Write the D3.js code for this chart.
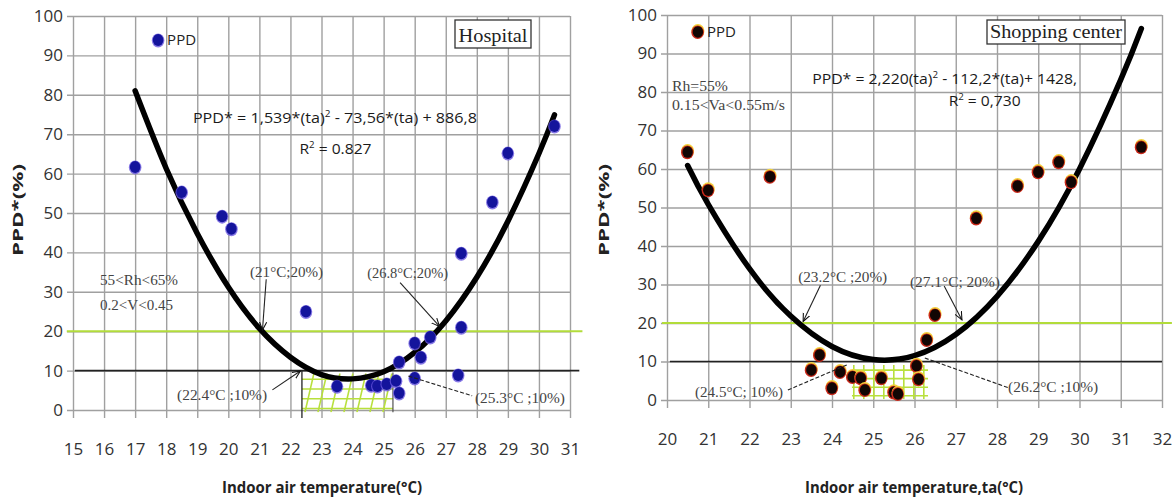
<!DOCTYPE html>
<html>
<head>
<meta charset="utf-8">
<script src="https://cdn.jsdelivr.net/npm/d3@7"></script>
<style>
  body { margin: 0; background: #fff; }
  text { font-family: "Open Sans", sans-serif; }
</style>
</head>
<body>
<div id="chart"></div>
<script>
const width = 1175;
const height = 499;

// Hospital measurements (air temperature °C, PPD* %)
const hospitalTemp = [17.0, 18.5, 19.8, 20.1, 22.5, 23.5, 24.6, 24.8, 25.1, 25.4, 25.5, 25.5, 26.0, 26.2, 26.0, 26.5, 27.4, 27.5, 27.5, 28.5, 29.0, 30.5];
const hospitalPPD = [61.7, 55.3, 49.2, 46.0, 25.0, 6.0, 6.3, 6.1, 6.6, 7.4, 4.3, 12.2, 8.1, 13.4, 17.0, 18.5, 8.9, 21.0, 39.8, 52.8, 65.2, 72.1];
// Hospital fitted curve
const hospitalFitTemp = [17, 18, 19, 20, 21, 22, 23, 24, 25, 26, 27, 28, 29, 30, 30.5];
const hospitalFitPPD = [81.0, 61.3, 44.8, 31.2, 20.7, 13.4, 9.0, 7.9, 9.7, 14.6, 22.6, 33.7, 47.9, 65.1, 74.9];
const hospitalXTicks = [15, 16, 17, 18, 19, 20, 21, 22, 23, 24, 25, 26, 27, 28, 29, 30, 31];

// Shopping center measurements
const shopTemp = [20.5, 21.0, 22.5, 23.5, 23.7, 24.0, 24.2, 24.5, 24.7, 24.8, 25.2, 25.5, 25.6, 26.05, 26.1, 26.3, 26.5, 27.5, 28.5, 29.0, 29.5, 29.8, 31.5];
const shopPPD = [64.4, 54.5, 58.0, 7.8, 11.7, 3.1, 7.3, 6.0, 5.7, 2.6, 5.7, 2.0, 1.6, 8.9, 5.4, 15.6, 22.1, 47.2, 55.6, 59.2, 61.8, 56.6, 65.7];
const shopFitTemp = [20.5, 21, 22, 23, 24, 25, 26, 27, 28, 29, 30, 31, 31.5];
const shopFitPPD = [60.9, 50.8, 34.1, 21.8, 13.9, 10.5, 11.5, 17.0, 26.9, 41.2, 60.0, 83.2, 96.5];
const shopXTicks = [20, 21, 22, 23, 24, 25, 26, 27, 28, 29, 30, 31, 32];

const yTicks = [0, 10, 20, 30, 40, 50, 60, 70, 80, 90, 100];

const svg = d3.select("#chart").append("svg").attr("width", width).attr("height", height);

const defs = svg.append("defs");
defs.append("marker").attr("id", "arrow")
    .attr("viewBox", "0 0 10 10").attr("refX", 9).attr("refY", 5)
    .attr("markerWidth", 9).attr("markerHeight", 9).attr("markerUnits", "userSpaceOnUse")
    .attr("orient", "auto")
    .append("path").attr("d", "M0,1 L9,5 L0,9").attr("fill", "none").attr("stroke", "#111").attr("stroke-width", 1.2);

const panels = [
    {
        id: "hosp",
        temp: hospitalTemp, ppd: hospitalPPD, fitT: hospitalFitTemp, fitP: hospitalFitPPD, xTicks: hospitalXTicks,
        xDomain: [15, 31], xRange: [73, 570], yRange: [410, 16],
        dot: "blue",
        title: "Hospital", box: [455, 20, 76, 28], titleLen: 69,
        legend: [17.74, 93.9],
        eq: { x: 18.86, y: 74.0, len: 284, text: ["PPD* = 1,539*(ta)", "2", " - 73,56*(ta) + 886,8"] },
        r2: { x: 23.45, y: 66.3, len: 72, text: ["R", "2", " = 0.827"] },
        notes: [
            { t: "55<Rh<65%", x: 15.87, y: 33.0, len: 78 },
            { t: "0.2<V<0.45", x: 15.87, y: 26.7, len: 73 }
        ],
        arrows: [
            { t: "(21°C;20%)", x: 20.70, y: 35.0, len: 73, from: [21.22, 33.2], to: [21.1, 20.3], dash: false },
            { t: "(26.8°C;20%)", x: 24.47, y: 34.7, len: 81, from: [25.53, 32.3], to: [26.8, 21.2], dash: false },
            { t: "(22.4°C ;10%)", x: 18.35, y: 3.8, len: 90, from: [21.42, 5.1], to: [22.32, 9.9], dash: false },
            { t: "(25.3°C ;10%)", x: 27.94, y: 3.0, len: 90, from: [25.8, 8.6], to: [27.85, 3.6], dash: true }
        ],
        green: [14.8, 31.4], black: [15.06, 31.3],
        hatch: { x0: 22.37, x1: 25.3, y0: 9.3, y1: -0.6, kind: "slant" },
        xTitle: "Indoor air temperature(°C)", xTitleX: 322, xTitleLen: 200,
        yTitleX: 18
    },
    {
        id: "shop",
        temp: shopTemp, ppd: shopPPD, fitT: shopFitTemp, fitP: shopFitPPD, xTicks: shopXTicks,
        xDomain: [20, 32], xRange: [667, 1162], yRange: [400, 15],
        dot: "dark",
        title: "Shopping center", box: [987, 20, 138, 24], titleLen: 132,
        legend: [20.75, 95.6],
        eq: { x: 23.52, y: 83.4, len: 265, text: ["PPD* = 2,220(ta)", "2", " - 112,2*(ta)+ 1428,"] },
        r2: { x: 27.7, y: 77.6, len: 72, text: ["R", "2", " = 0,730"] },
        notes: [
            { t: "Rh=55%", x: 20.12, y: 81.6, len: 56 },
            { t: "0.15<Va<0.55m/s", x: 20.12, y: 76.6, len: 113 }
        ],
        arrows: [
            { t: "(23.2°C ;20%)", x: 23.18, y: 32.0, len: 89, from: [23.72, 29.8], to: [23.3, 20.4], dash: false },
            { t: "(27.1°C; 20%)", x: 25.89, y: 30.7, len: 90, from: [26.72, 29.6], to: [27.15, 20.8], dash: false },
            { t: "(24.5°C; 10%)", x: 20.68, y: 2.0, len: 88, from: [22.93, 2.6], to: [24.4, 9.3], dash: true },
            { t: "(26.2°C ;10%)", x: 28.27, y: 3.3, len: 90, from: [26.25, 10.9], to: [28.3, 3.1], dash: true }
        ],
        green: [19.88, 32.24], black: [20.07, 32.0],
        hatch: { x0: 24.48, x1: 26.33, y0: 9.1, y1: 0.2, kind: "grid" },
        xTitle: "Indoor air temperature,ta(°C)", xTitleX: 914, xTitleLen: 218,
        yTitleX: 604
    }
];

panels.forEach(p => {
    const x = d3.scaleLinear().domain(p.xDomain).range(p.xRange);
    const y = d3.scaleLinear().domain([0, 100]).range(p.yRange);
    const g = svg.append("g").attr("id", p.id);

    // Vertical gridlines + tick labels
    const xAxis = d3.axisBottom(x).tickValues(p.xTicks).tickFormat(d3.format("d"))
        .tickSizeInner(-(y(0) + 8 - y(100))).tickSizeOuter(0).tickPadding(25);
    const gx = g.append("g").attr("transform", `translate(0, ${y(0) + 8})`).call(xAxis);
    gx.select(".domain").remove();
    gx.selectAll("line").attr("stroke", "#a0a0a0").attr("stroke-width", 1.4);
    gx.selectAll("text").style("font-size", "17px").attr("fill", "#333");

    // Horizontal gridlines + tick labels
    const yAxis = d3.axisLeft(y).tickValues(yTicks)
        .tickSizeInner(-(x.range()[1] - x.range()[0] + 6)).tickSizeOuter(0).tickPadding(4);
    const gy = g.append("g").attr("transform", `translate(${x.range()[0] - 6}, 0)`).call(yAxis);
    gy.select(".domain").remove();
    gy.selectAll("line").attr("stroke", "#a0a0a0").attr("stroke-width", 1.4);
    gy.selectAll("text").style("font-size", "17px").attr("fill", "#333");

    // Comfort threshold lines
    g.append("line").attr("x1", x(p.green[0])).attr("x2", x(p.green[1]))
        .attr("y1", y(20)).attr("y2", y(20)).attr("stroke", "#b2dc3a").attr("stroke-width", 2);
    g.append("line").attr("x1", x(p.black[0])).attr("x2", x(p.black[1]))
        .attr("y1", y(10)).attr("y2", y(10)).attr("stroke", "#222").attr("stroke-width", 1.6);

    // Hatched comfort zone
    const h = p.hatch;
    const hx0 = x(h.x0), hx1 = x(h.x1), hy0 = y(h.y0), hy1 = y(h.y1);
    const clipId = "clip-" + p.id;
    defs.append("clipPath").attr("id", clipId).append("rect")
        .attr("x", hx0).attr("y", hy0).attr("width", hx1 - hx0).attr("height", hy1 - hy0);
    const hg = g.append("g").attr("clip-path", `url(#${clipId})`)
        .attr("stroke", "#b8e03c").attr("stroke-width", 1.6);
    const rows = 4;
    d3.range(rows).forEach(i => {
        const yy = hy0 + (hy1 - hy0) * (i + 0.6) / rows;
        hg.append("line").attr("x1", hx0).attr("x2", hx1).attr("y1", yy).attr("y2", yy);
    });
    if (h.kind === "slant") {
        for (let xx = hx0 - 10; xx < hx1 + 10; xx += 13) {
            hg.append("line").attr("x1", xx).attr("y1", hy1).attr("x2", xx + 9).attr("y2", hy0);
        }
        g.append("line").attr("x1", hx0).attr("x2", hx0).attr("y1", y(10)).attr("y2", y(0) + 8)
            .attr("stroke", "#222").attr("stroke-width", 1.3);
        g.append("line").attr("x1", hx1).attr("x2", hx1).attr("y1", y(9.5)).attr("y2", y(-0.6))
            .attr("stroke", "#444").attr("stroke-width", 1.1);
    } else {
        for (let xx = hx0 + 2; xx < hx1; xx += 10) {
            hg.append("line").attr("x1", xx).attr("x2", xx).attr("y1", hy0).attr("y2", hy1);
        }
    }

    // Fitted curve
    const line = d3.line().x((d, i) => x(p.fitT[i])).y((d, i) => y(p.fitP[i])).curve(d3.curveNatural);
    g.append("path").datum(p.fitP).attr("d", line).attr("fill", "none")
        .attr("stroke", "#000").attr("stroke-width", 5.5).attr("stroke-linecap", "round");

    // Points
    const drawDot = (sel, cx, cy) => {
        if (p.dot === "blue") {
            sel.append("ellipse").attr("cx", cx).attr("cy", cy + 0.5).attr("rx", 6.3).attr("ry", 7)
                .attr("fill", "#6a58e0").attr("opacity", 0.8);
            sel.append("ellipse").attr("cx", cx).attr("cy", cy).attr("rx", 5.3).attr("ry", 6)
                .attr("fill", "#14149c");
        } else {
            sel.append("ellipse").attr("cx", cx).attr("cy", cy - 1).attr("rx", 6.5).attr("ry", 7)
                .attr("fill", "#f2d23c");
            sel.append("ellipse").attr("cx", cx - 0.3).attr("cy", cy + 0.3).attr("rx", 6.3).attr("ry", 6.8)
                .attr("fill", "#c8281a");
            sel.append("ellipse").attr("cx", cx).attr("cy", cy).attr("rx", 5.2).attr("ry", 5.8)
                .attr("fill", "#120604");
        }
    };
    const dots = g.append("g");
    p.ppd.forEach((v, i) => drawDot(dots.append("g"), x(p.temp[i]), y(v)));

    // Legend
    drawDot(g.append("g"), x(p.legend[0]), y(p.legend[1]));
    g.append("text").attr("x", x(p.legend[0]) + 9).attr("y", y(p.legend[1]) + 5)
        .style("font-size", "15px").attr("fill", "#222").text("PPD");

    // Title box
    g.append("rect").attr("x", p.box[0]).attr("y", p.box[1]).attr("width", p.box[2]).attr("height", p.box[3])
        .attr("fill", "#fff").attr("stroke", "#333").attr("stroke-width", 1.3);
    g.append("text").attr("x", p.box[0] + p.box[2] / 2).attr("y", p.box[1] + p.box[3] - 6)
        .attr("text-anchor", "middle").attr("textLength", p.titleLen).attr("lengthAdjust", "spacingAndGlyphs")
        .style("font-family", "'Liberation Serif', serif").style("font-size", "19px").attr("fill", "#222")
        .text(p.title);

    // Equation + R²
    const eq = g.append("text").attr("x", x(p.eq.x)).attr("y", y(p.eq.y) + 5)
        .attr("textLength", p.eq.len).attr("lengthAdjust", "spacingAndGlyphs")
        .style("font-size", "14.5px").attr("fill", "#1a1a1a");
    eq.append("tspan").text(p.eq.text[0]);
    eq.append("tspan").attr("dy", -6).style("font-size", "9px").text(p.eq.text[1]);
    eq.append("tspan").attr("dy", 6).text(p.eq.text[2]);
    const r2 = g.append("text").attr("x", x(p.r2.x) - p.r2.len / 2).attr("y", y(p.r2.y) + 5)
        .attr("textLength", p.r2.len).attr("lengthAdjust", "spacingAndGlyphs")
        .style("font-size", "14.5px").attr("fill", "#1a1a1a");
    r2.append("tspan").text(p.r2.text[0]);
    r2.append("tspan").attr("dy", -6).style("font-size", "9px").text(p.r2.text[1]);
    r2.append("tspan").attr("dy", 6).text(p.r2.text[2]);

    // Condition notes
    p.notes.forEach(n => {
        g.append("text").attr("x", x(n.x)).attr("y", y(n.y) + 5)
            .attr("textLength", n.len).attr("lengthAdjust", "spacingAndGlyphs")
            .style("font-family", "'Liberation Serif', serif").style("font-size", "15px")
            .attr("fill", "#444").text(n.t);
    });

    // Annotated intersections
    p.arrows.forEach(a => {
        g.append("text").attr("x", x(a.x)).attr("y", y(a.y) + 5)
            .attr("textLength", a.len).attr("lengthAdjust", "spacingAndGlyphs")
            .style("font-family", "'Liberation Serif', serif").style("font-size", "15px")
            .attr("fill", "#444").text(a.t);
        const l = g.append("line")
            .attr("x1", x(a.from[0])).attr("y1", y(a.from[1]))
            .attr("x2", x(a.to[0])).attr("y2", y(a.to[1]))
            .attr("stroke", "#222").attr("stroke-width", 1.1);
        if (a.dash) l.attr("stroke-dasharray", "4,2");
        else l.attr("marker-end", "url(#arrow)");
    });

    // Axis titles
    g.append("text").attr("x", p.xTitleX).attr("y", 493).attr("text-anchor", "middle")
        .attr("textLength", p.xTitleLen).attr("lengthAdjust", "spacingAndGlyphs")
        .style("font-size", "16px").style("font-weight", "bold").attr("fill", "#222").text(p.xTitle);
    g.append("text").attr("transform", `translate(${p.yTitleX + 5}, 210) rotate(-90)`)
        .attr("text-anchor", "middle").attr("textLength", 92).attr("lengthAdjust", "spacingAndGlyphs")
        .style("font-size", "15px").style("font-weight", "bold").attr("fill", "#222").text("PPD*(%)");
});
</script>
</body>
</html>
